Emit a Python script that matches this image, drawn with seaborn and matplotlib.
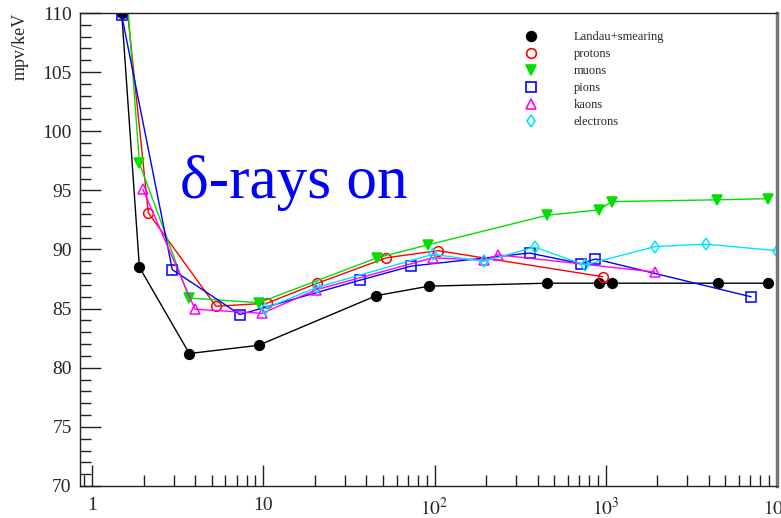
import numpy as np
import pandas as pd
import matplotlib
matplotlib.use('Agg')
import matplotlib.pyplot as plt
from matplotlib.lines import Line2D
from matplotlib.ticker import FixedLocator, LogLocator, MultipleLocator, NullFormatter
import seaborn as sns

# values (momentum, mpv in keV)
landau_x = [1.49, 1.89, 3.70, 9.39, 45.8, 92.9, 456, 912, 1091, 4510, 8910]
landau_y = [110.0, 88.5, 81.2, 81.9, 86.1, 86.9, 87.15, 87.15, 87.15, 87.15, 87.15]

proton_x = [1.6, 2.13, 5.29, 10.45, 20.7, 52.4, 104.8, 962]
proton_y = [110.5, 93.1, 85.2, 85.45, 87.15, 89.3, 89.9, 87.7]

muon_x = [1.62, 1.89, 3.68, 9.43, 46.2, 92, 456, 912, 1083, 4460, 8910]
muon_y = [110.5, 97.3, 85.9, 85.5, 89.3, 90.4, 92.9, 93.35, 94.05, 94.2, 94.3]

pion_x = [1.49, 2.94, 7.30, 36.6, 73.3, 359, 719, 868, 7060]
pion_y = [109.8, 88.3, 84.5, 87.4, 88.6, 89.7, 88.8, 89.2, 86.0]

kaon_x = [1.98, 3.99, 9.85, 20.4, 98, 194, 235, 1928]
kaon_y = [95.1, 84.95, 84.6, 86.6, 89.3, 89.1, 89.55, 88.1]

electron_x = [10.2, 20.6, 98, 194, 384, 752, 1950, 3860, 10000]
electron_y = [85.0, 86.8, 89.6, 89.0, 90.2, 88.7, 90.25, 90.45, 89.9]

labels = ['Landau+smearing', 'protons', 'muons', 'pions', 'kaons', 'electrons']
colors = ['black', '#ff0000', '#00e000', '#0000ff', '#ff00ff', '#00e5ff']
markers = ['o', 'o', 'v', 's', '^', 'd']
filled = [True, False, True, False, False, False]
xs = [landau_x, proton_x, muon_x, pion_x, kaon_x, electron_x]
ys = [landau_y, proton_y, muon_y, pion_y, kaon_y, electron_y]

xticks = [1, 10, 100, 1000, 10000]
xtick_labels = ['1', '10', '$10^{2}$', '$10^{3}$', '$10^{4}$']

sns.set_style('ticks')
plt.rcParams['font.family'] = ['Liberation Serif', 'DejaVu Serif']
plt.rcParams['mathtext.fontset'] = 'stix'

fig = plt.figure(figsize=(7.81, 5.18), dpi=100)
ax = fig.add_axes([0.1024, 0.0618, 0.8925, 0.9131])

for x, y, lab, c, m, f in zip(xs, ys, labels, colors, markers, filled):
    df = pd.DataFrame({'p': x, 'mpv': y})
    sns.lineplot(data=df, x='p', y='mpv', ax=ax, color=c, lw=1.0,
                 marker=m, ms=7 if m != 'd' else 6.5,
                 mfc=c if f else 'none', mec=c, mew=1.1,
                 sort=False, estimator=None, legend=False)

ax.set_xscale('log')
ax.set_xlim(0.85, 10000)
ax.set_ylim(70, 110)
ax.set_xlabel('')
ax.set_ylabel('')

ax.xaxis.set_major_locator(FixedLocator(xticks))
ax.set_xticklabels(xtick_labels)
ax.xaxis.set_minor_locator(LogLocator(base=10, subs=np.arange(2, 10)))
ax.xaxis.set_minor_formatter(NullFormatter())
ax.yaxis.set_major_locator(MultipleLocator(5))
ax.yaxis.set_minor_locator(MultipleLocator(1))

ax.tick_params(which='both', direction='in', top=False, right=False,
               labelsize=14, width=1.0, color='#222222')
ax.tick_params(which='major', length=15, pad=6)
ax.tick_params(which='minor', length=8)
ax.tick_params(axis='x', which='major', pad=8)

for s in ['left', 'bottom', 'top']:
    ax.spines[s].set_linewidth(1.0)
    ax.spines[s].set_color('#222222')
ax.spines['right'].set_linewidth(2.5)
ax.spines['right'].set_color('#777777')

# legend with markers only, no frame
handles = [Line2D([], [], ls='none', marker=m, ms=7 if m != 'd' else 6,
                  mfc=c if f else 'none', mec=c, mew=1.2)
           for m, c, f in zip(markers, colors, filled)]
ax.legend(handles, labels, loc='upper left', bbox_to_anchor=(0.622, 0.972),
          frameon=False, fontsize=9, labelspacing=0.4, handletextpad=2.4,
          handlelength=2.0, borderaxespad=0)

ax.text(0.143, 0.64, 'δ-rays on', transform=ax.transAxes, color='#0000ff',
        fontsize=44, ha='left', va='center')

fig.text(0.026, 0.975, 'mpv/keV', rotation=90, ha='center', va='top', fontsize=13)

fig.savefig('out.png', dpi=100)
